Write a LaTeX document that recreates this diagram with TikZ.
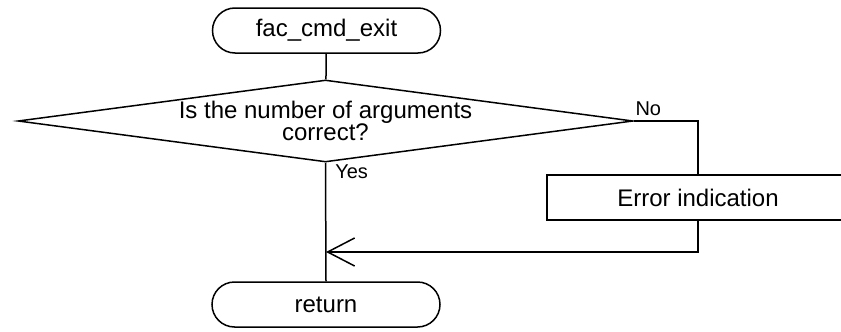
\documentclass[tikz,border=0pt]{standalone}
\usepackage{fontspec}
\setmainfont{Liberation Sans}
\usetikzlibrary{shapes.geometric,shapes.misc,arrows.meta,positioning}

\tikzset{
  terminal/.style={draw, rounded rectangle, minimum width=228pt, minimum height=45pt, inner sep=0pt, font=\fontsize{24}{26}\selectfont},
  decision/.style={draw, diamond, aspect=8, inner xsep=0pt, inner ysep=-5pt, minimum width=615pt, minimum height=82pt, align=center, font=\fontsize{24}{22}\selectfont},
  process/.style={draw, rectangle, minimum width=302pt, minimum height=45pt, inner sep=0pt, font=\fontsize{24}{26}\selectfont},
  branch/.style={font=\fontsize{20}{22}\selectfont, inner sep=1pt},
  flow/.style={-{Straight Barb[length=27pt, width=28pt, line width=1.5pt]}}
}

\begin{document}
\begin{tikzpicture}[x=1pt, y=-1pt, line width=1.5pt]

% Frame
\useasboundingbox (0,0) rectangle (841,332);
\clip (0,0) rectangle (841,332);

% Nodes
\node[terminal] (start) at (326.5,30.5) {fac\_cmd\_exit};
\node[decision] (check) at (325.5,121) {Is the number of arguments\\correct?};
\node[process]  (err)   at (698,197.5) {Error indication};
\node[terminal] (ret)   at (326,304.5) {return};
\coordinate (merge) at (326,252);

% Connectors
\draw (start) -- (check);
\draw (check.south) -- (ret.north);
\draw (check.east) -| (err.north);
\draw[flow] (err.south) |- (merge);

% Labels
\node[branch, anchor=south west, yshift=4pt] at (check.east) {No};
\node[branch, anchor=north west, xshift=8pt] at (check.south) {Yes};

\end{tikzpicture}
\end{document}
